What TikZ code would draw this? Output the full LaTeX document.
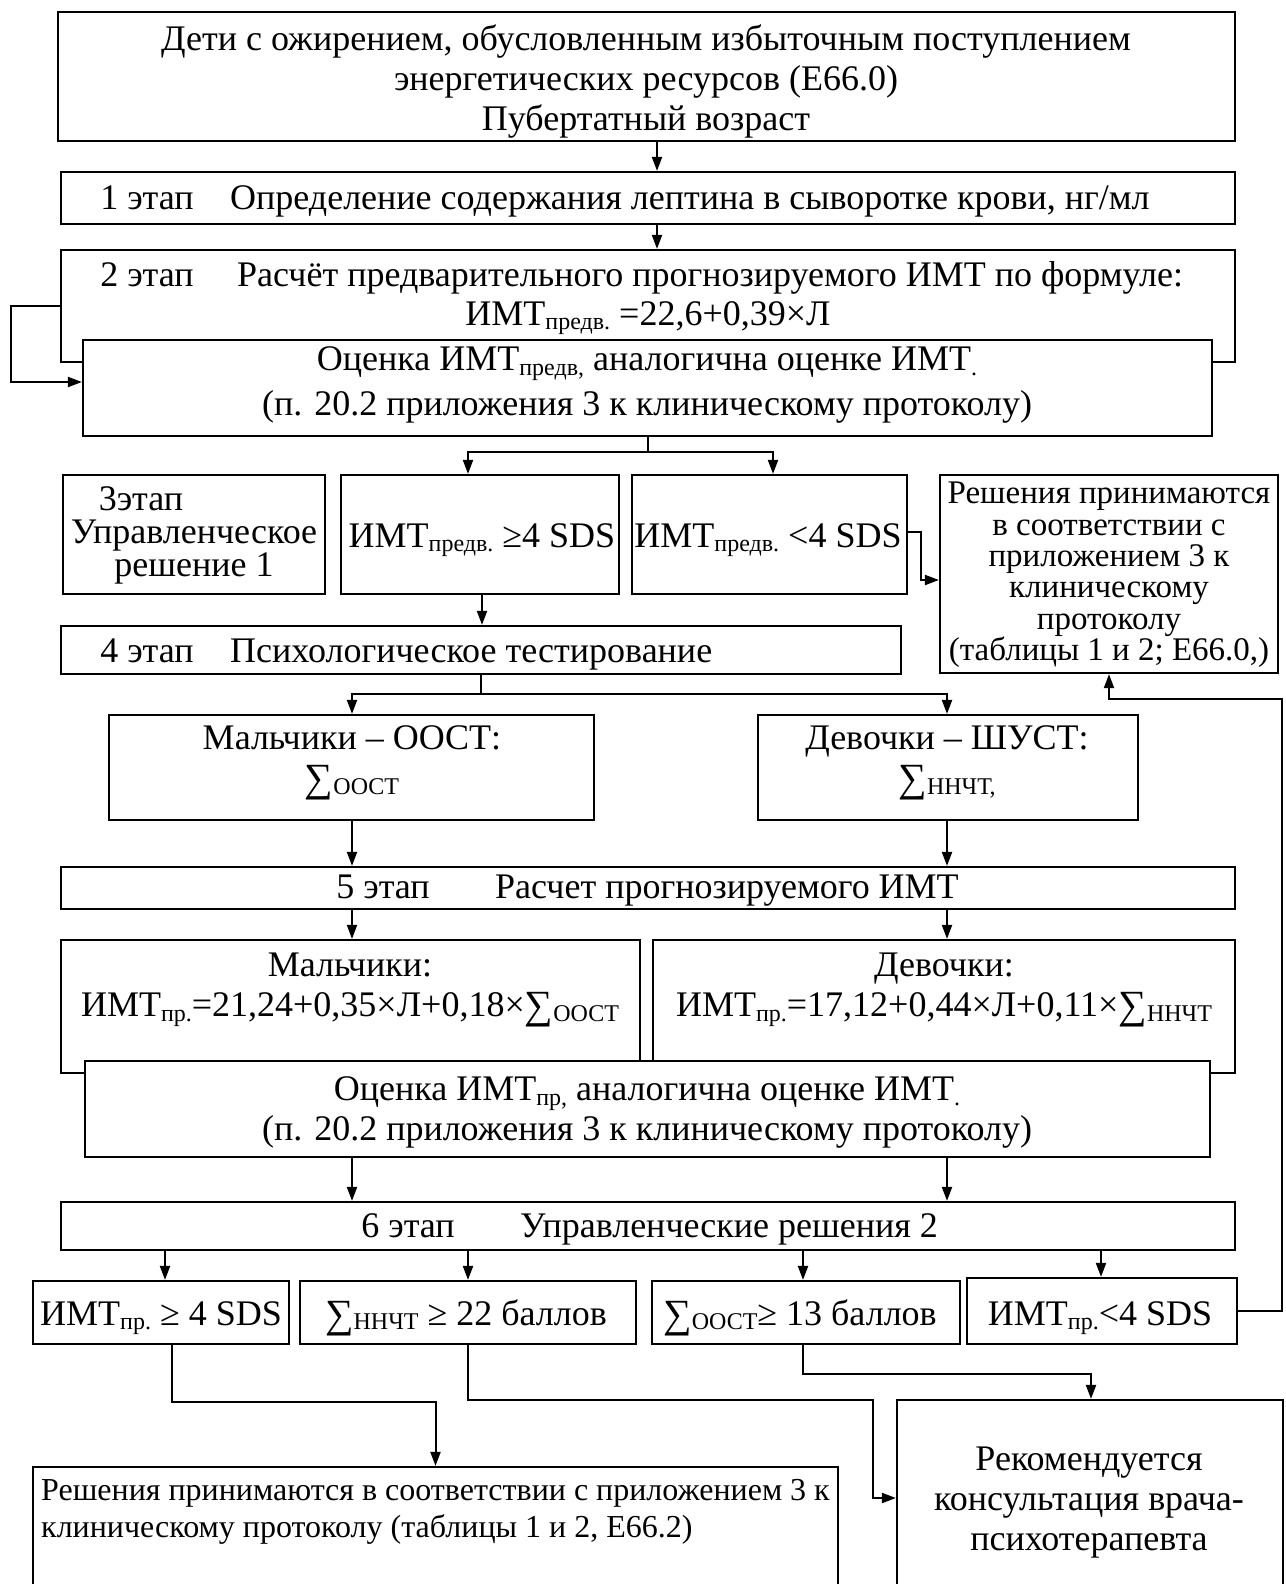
\documentclass[tikz,border=0pt]{standalone}
\usepackage{fontspec}
\setmainfont{Liberation Serif}
\usetikzlibrary{arrows.meta,calc}
\newcommand{\lsub}[1]{\raisebox{-0.3ex}{\fontsize{24}{24}\selectfont #1}}
\newcommand{\sumS}{\raisebox{-2pt}{\fontsize{40}{40}\selectfont ∑}}
\newcommand{\fs}{\fontsize{36}{40}\selectfont}
\begin{document}
\begin{tikzpicture}[x=1pt,y=-1pt,
 box/.style={draw, line width=2.2pt, inner sep=0pt, fill=white},
 txt/.style={inner sep=0pt, font=\fs, align=center},
 btxt/.style={inner sep=0pt, font=\fs, anchor=base},
 con/.style={line width=2pt},
 arr/.style={line width=2pt, -{Triangle[length=14pt,width=10pt]}},
]
\useasboundingbox (0,0) rectangle (1285,1584);
\clip (0,0) rectangle (1285,1584);

% boxes
\node[box, minimum width=1177pt, minimum height=129pt] (top) at (646.5,76.5) {};
\node[box, minimum width=1174pt, minimum height=52pt] (b1) at (648,198) {};
\node[box, minimum width=1174pt, minimum height=112pt] (b2) at (648,306) {};
\node[box, minimum width=1129pt, minimum height=96pt] (ev1) at (647.5,388) {};
\node[box, minimum width=262pt, minimum height=119pt] (s3) at (194,534.5) {};
\node[box, minimum width=278pt, minimum height=119pt] (ge) at (480,534.5) {};
\node[box, minimum width=275pt, minimum height=119pt] (lt) at (769.5,534.5) {};
\node[box, minimum width=338pt, minimum height=198pt] (rd) at (1109,574) {};
\node[box, minimum width=840pt, minimum height=48pt] (b4) at (481,650) {};
\node[box, minimum width=485pt, minimum height=105pt] (boy) at (351.5,767.5) {};
\node[box, minimum width=380pt, minimum height=105pt] (girl) at (948,767.5) {};
\node[box, minimum width=1174pt, minimum height=42pt] (b5) at (648,888) {};
\node[box, minimum width=579pt, minimum height=133pt] (boy2) at (350.5,1006.5) {};
\node[box, minimum width=582pt, minimum height=133pt] (girl2) at (944,1006.5) {};
\node[box, minimum width=1125pt, minimum height=96pt] (ev2) at (647.5,1109) {};
\node[box, minimum width=1174pt, minimum height=48pt] (b6) at (648,1226) {};
\node[box, minimum width=256pt, minimum height=63pt] (r1) at (161,1312.5) {};
\node[box, minimum width=336pt, minimum height=63pt] (r2) at (468,1312.5) {};
\node[box, minimum width=308pt, minimum height=63pt] (r3) at (806,1312.5) {};
\node[box, minimum width=270pt, minimum height=66pt] (r4) at (1102,1311) {};
\node[box, minimum width=805pt, minimum height=153pt] (bl) at (435.5,1543.5) {};
\node[box, minimum width=386pt, minimum height=220pt] (rec) at (1090,1510) {};

% texts
\node[txt] (t0) at (646,82) {Дети с ожирением, обусловленным избыточным поступлением\\энергетических ресурсов (Е66.0)\\Пубертатный возраст};
\node[btxt] (t1a) at (147,209) {1 этап};
\node[btxt, anchor=base west] (t1b) at (230,209) {Определение содержания лептина в сыворотке крови, нг/мл};
\node[btxt] (t2a) at (147,286) {2 этап};
\node[btxt, anchor=base west] (t2b) at (237,286) {Расчёт предварительного прогнозируемого ИМТ по формуле:};
\node[btxt] (t2c) at (648,325) {ИМТ\lsub{предв.} =22,6+0,39×Л};
\node[txt, font=\fontsize{36}{45}\selectfont] (te1) at (647,385) {Оценка ИМТ\lsub{предв,} аналогична оценке ИМТ\lsub{.}\\(п. 20.2 приложения 3 к клиническому протоколу)};
\node[txt, font=\fontsize{36}{33}\selectfont] (t3) at (194,535) {3этап\hspace*{106pt}\\Управленческое\\решение 1};
\node[btxt] (tge) at (482,547) {ИМТ\lsub{предв.} ≥4 SDS};
\node[btxt] (tlt) at (768,547) {ИМТ\lsub{предв.} <4 SDS};
\node[txt, font=\fontsize{33}{31.4}\selectfont] (trd) at (1109,575) {Решения принимаются\\в соответствии с\\приложением 3 к\\клиническому\\протоколу\\(таблицы 1 и 2; Е66.0,)};
\node[btxt] (t4a) at (147,662) {4 этап};
\node[btxt, anchor=base west] (t4b) at (230,662) {Психологическое тестирование};
\node[txt] (tboy) at (352,763) {Мальчики – ООСТ:\\\sumS\lsub{ООСТ}};
\node[txt] (tgirl) at (947,763) {Девочки – ШУСТ:\\\sumS\lsub{ННЧТ,}};
\node[btxt] (t5a) at (383,898) {5 этап};
\node[btxt, anchor=base west] (t5b) at (495,898) {Расчет прогнозируемого ИМТ};
\node[txt] (tboy2) at (350,990) {Мальчики:\\ИМТ\lsub{пр.}=21,24+0,35×Л+0,18×\sumS\lsub{ООСТ}};
\node[txt] (tgirl2) at (944,990) {Девочки:\\ИМТ\lsub{пр.}=17,12+0,44×Л+0,11×\sumS\lsub{ННЧТ}};
\node[txt] (te2) at (647,1112) {Оценка ИМТ\lsub{пр,} аналогична оценке ИМТ\lsub{.}\\(п. 20.2 приложения 3 к клиническому протоколу)};
\node[btxt] (t6a) at (408,1237) {6 этап};
\node[btxt, anchor=base west] (t6b) at (520,1237) {Управленческие решения 2};
\node[btxt] (tr1) at (161,1325) {ИМТ\lsub{пр.} ≥ 4 SDS};
\node[btxt] (tr2) at (466,1325) {\sumS\lsub{ННЧТ} ≥ 22 баллов};
\node[btxt] (tr3) at (800,1325) {\sumS\lsub{ООСТ}≥ 13 баллов};
\node[btxt] (tr4) at (1100,1325) {ИМТ\lsub{пр.}<4 SDS};
\node[txt, align=left, anchor=west, font=\fontsize{32}{37}\selectfont] (tbl) at (41,1511.5) {Решения принимаются в соответствии с приложением 3 к\\клиническому протоколу (таблицы 1 и 2, Е66.2)};
\node[txt] (trec) at (1089,1503) {Рекомендуется\\консультация врача-\\психотерапевта};

% connectors
\draw[arr] (657,0 |- top.south) -- (657,0 |- b1.north);
\draw[arr] (657,0 |- b1.south) -- (657,0 |- b2.north);
\draw[arr] (b2.west) -- ++(-49,0) |- ($(ev1.west)+(0,-6)$);
\draw[arr] (ev1.south) -- (ev1.south |- 0,452) -| (468,0 |- ge.north);
\draw[arr] (ev1.south |- 0,452) -| (773,0 |- lt.north);
\draw[arr] ($(lt.east)+(0,-3)$) -- ++(13,0) |- ($(rd.west)+(0,6)$);
\draw[arr] (482,0 |- ge.south) -- (482,0 |- b4.north);
\draw[arr] (b4.south) -- (b4.south |- 0,694) -| (352,0 |- boy.north);
\draw[arr] (b4.south |- 0,694) -| (947,0 |- girl.north);
\draw[arr] (352,0 |- boy.south) -- (352,0 |- b5.north);
\draw[arr] (947,0 |- girl.south) -- (947,0 |- b5.north);
\draw[arr] (352,0 |- b5.south) -- (352,0 |- boy2.north);
\draw[arr] (947,0 |- b5.south) -- (947,0 |- girl2.north);
\draw[arr] (352,0 |- ev2.south) -- (352,0 |- b6.north);
\draw[arr] (947,0 |- ev2.south) -- (947,0 |- b6.north);
\draw[arr] (165,0 |- b6.south) -- (165,0 |- r1.north);
\draw[arr] (468,0 |- b6.south) -- (468,0 |- r2.north);
\draw[arr] (803,0 |- b6.south) -- (803,0 |- r3.north);
\draw[arr] (1101,0 |- b6.south) -- (1101,0 |- r4.north);
\coordinate (re) at (1282,699);
\draw[arr] (r4.east) -| (re) -| (rd.south);
\coordinate (k0) at (172,1402);
\draw[arr] (172,0 |- r1.south) -- (k0) -| (bl.north);
\coordinate (k1) at (873,1400);
\draw[arr] (r2.south) |- (k1) |- ($(rec.west)+(0,-12)$);
\coordinate (k2) at (1091,1374);
\draw[arr] (803,0 |- r3.south) |- (k2) -- (k2 |- rec.north);
\end{tikzpicture}
\end{document}
